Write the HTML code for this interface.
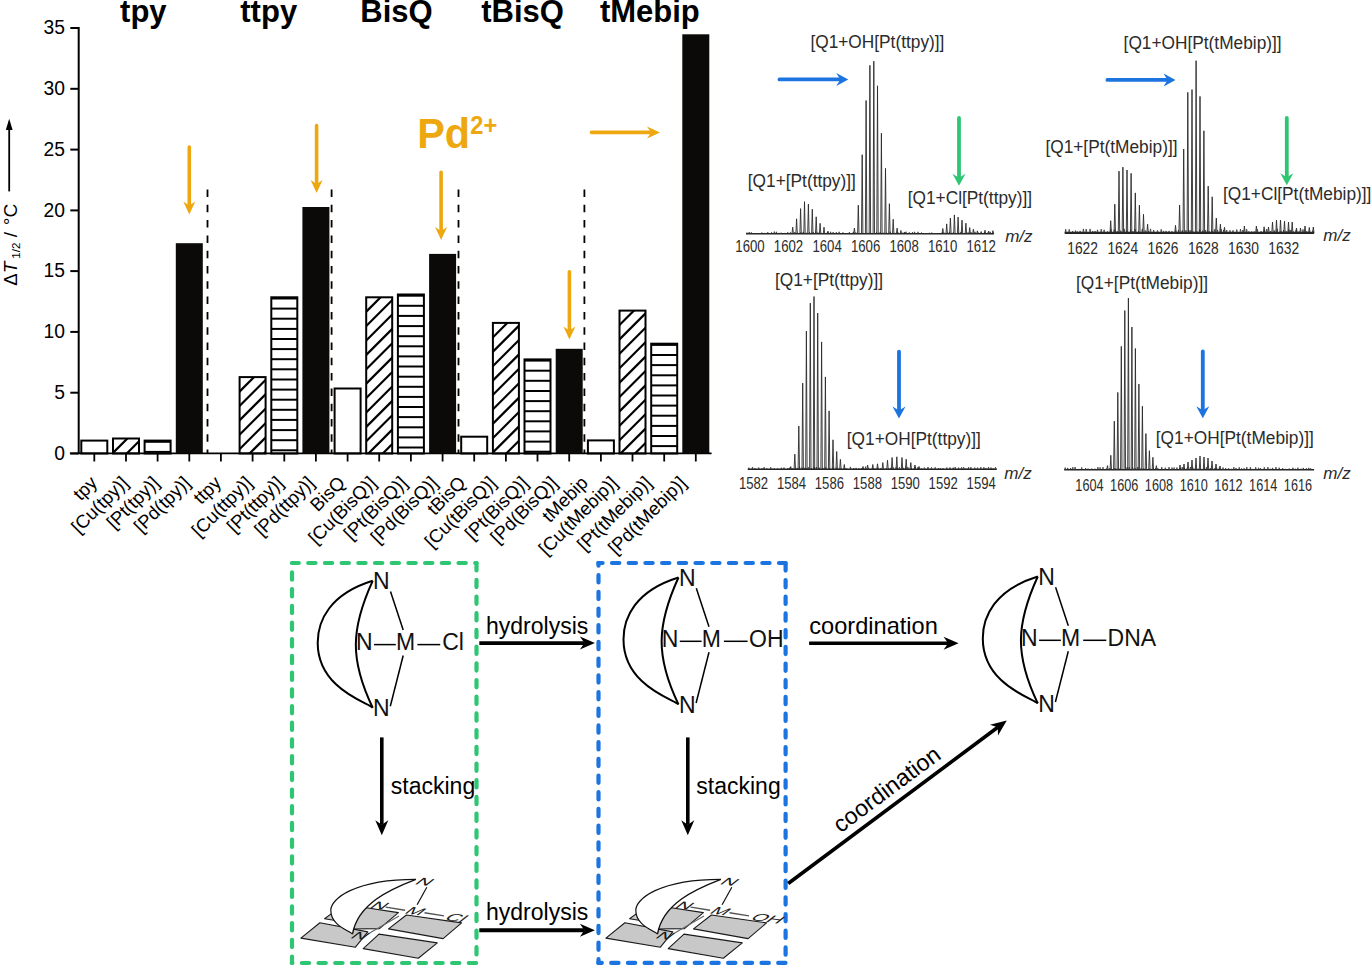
<!DOCTYPE html>
<html><head><meta charset="utf-8"><style>html,body{margin:0;padding:0;background:#fff;}svg{display:block}</style></head>
<body><svg width="1372" height="970" viewBox="0 0 1372 970">
<rect width="1372" height="970" fill="#fff"/>
<defs><clipPath id="c1"><rect x="113.0" y="438.5" width="26" height="15.0"/></clipPath><clipPath id="c5"><rect x="239.6" y="377.1" width="26" height="76.4"/></clipPath><clipPath id="c9"><rect x="366.2" y="297.3" width="26" height="156.2"/></clipPath><clipPath id="c13"><rect x="492.9" y="322.9" width="26" height="130.6"/></clipPath><clipPath id="c17"><rect x="619.5" y="310.6" width="26" height="142.9"/></clipPath></defs>
<line x1="78.7" y1="27" x2="78.7" y2="453.5" stroke="#000" stroke-width="2"/>
<line x1="70.3" y1="453.5" x2="78.7" y2="453.5" stroke="#000" stroke-width="2"/>
<text x="65" y="459.8" text-anchor="end" font-size="19.3" font-family="'Liberation Sans', sans-serif">0</text>
<line x1="70.3" y1="392.7" x2="78.7" y2="392.7" stroke="#000" stroke-width="2"/>
<text x="65" y="399.0" text-anchor="end" font-size="19.3" font-family="'Liberation Sans', sans-serif">5</text>
<line x1="70.3" y1="331.9" x2="78.7" y2="331.9" stroke="#000" stroke-width="2"/>
<text x="65" y="338.2" text-anchor="end" font-size="19.3" font-family="'Liberation Sans', sans-serif">10</text>
<line x1="70.3" y1="271.1" x2="78.7" y2="271.1" stroke="#000" stroke-width="2"/>
<text x="65" y="277.4" text-anchor="end" font-size="19.3" font-family="'Liberation Sans', sans-serif">15</text>
<line x1="70.3" y1="210.4" x2="78.7" y2="210.4" stroke="#000" stroke-width="2"/>
<text x="65" y="216.7" text-anchor="end" font-size="19.3" font-family="'Liberation Sans', sans-serif">20</text>
<line x1="70.3" y1="149.6" x2="78.7" y2="149.6" stroke="#000" stroke-width="2"/>
<text x="65" y="155.9" text-anchor="end" font-size="19.3" font-family="'Liberation Sans', sans-serif">25</text>
<line x1="70.3" y1="88.8" x2="78.7" y2="88.8" stroke="#000" stroke-width="2"/>
<text x="65" y="95.1" text-anchor="end" font-size="19.3" font-family="'Liberation Sans', sans-serif">30</text>
<line x1="70.3" y1="28.0" x2="78.7" y2="28.0" stroke="#000" stroke-width="2"/>
<text x="65" y="34.3" text-anchor="end" font-size="19.3" font-family="'Liberation Sans', sans-serif">35</text>
<line x1="69.9" y1="453.3" x2="711.6" y2="453.3" stroke="#000" stroke-width="1.8"/>
<line x1="94.3" y1="453.5" x2="94.3" y2="461.5" stroke="#000" stroke-width="1.8"/>
<line x1="126.0" y1="453.5" x2="126.0" y2="461.5" stroke="#000" stroke-width="1.8"/>
<line x1="157.6" y1="453.5" x2="157.6" y2="461.5" stroke="#000" stroke-width="1.8"/>
<line x1="189.3" y1="453.5" x2="189.3" y2="461.5" stroke="#000" stroke-width="1.8"/>
<line x1="220.9" y1="453.5" x2="220.9" y2="461.5" stroke="#000" stroke-width="1.8"/>
<line x1="252.6" y1="453.5" x2="252.6" y2="461.5" stroke="#000" stroke-width="1.8"/>
<line x1="284.3" y1="453.5" x2="284.3" y2="461.5" stroke="#000" stroke-width="1.8"/>
<line x1="315.9" y1="453.5" x2="315.9" y2="461.5" stroke="#000" stroke-width="1.8"/>
<line x1="347.6" y1="453.5" x2="347.6" y2="461.5" stroke="#000" stroke-width="1.8"/>
<line x1="379.2" y1="453.5" x2="379.2" y2="461.5" stroke="#000" stroke-width="1.8"/>
<line x1="410.9" y1="453.5" x2="410.9" y2="461.5" stroke="#000" stroke-width="1.8"/>
<line x1="442.6" y1="453.5" x2="442.6" y2="461.5" stroke="#000" stroke-width="1.8"/>
<line x1="474.2" y1="453.5" x2="474.2" y2="461.5" stroke="#000" stroke-width="1.8"/>
<line x1="505.9" y1="453.5" x2="505.9" y2="461.5" stroke="#000" stroke-width="1.8"/>
<line x1="537.5" y1="453.5" x2="537.5" y2="461.5" stroke="#000" stroke-width="1.8"/>
<line x1="569.2" y1="453.5" x2="569.2" y2="461.5" stroke="#000" stroke-width="1.8"/>
<line x1="600.9" y1="453.5" x2="600.9" y2="461.5" stroke="#000" stroke-width="1.8"/>
<line x1="632.5" y1="453.5" x2="632.5" y2="461.5" stroke="#000" stroke-width="1.8"/>
<line x1="664.2" y1="453.5" x2="664.2" y2="461.5" stroke="#000" stroke-width="1.8"/>
<line x1="695.8" y1="453.5" x2="695.8" y2="461.5" stroke="#000" stroke-width="1.8"/>
<rect x="81.3" y="440.6" width="26" height="12.9" fill="none" stroke="#000" stroke-width="2"/>
<g clip-path="url(#c1)" stroke="#000" stroke-width="2.2"><line x1="108.0" y1="400.3" x2="144.0" y2="364.3"/><line x1="108.0" y1="414.7" x2="144.0" y2="378.7"/><line x1="108.0" y1="429.1" x2="144.0" y2="393.1"/><line x1="108.0" y1="443.5" x2="144.0" y2="407.5"/><line x1="108.0" y1="457.9" x2="144.0" y2="421.9"/><line x1="108.0" y1="472.3" x2="144.0" y2="436.3"/><line x1="108.0" y1="486.7" x2="144.0" y2="450.7"/><line x1="108.0" y1="501.1" x2="144.0" y2="465.1"/><line x1="108.0" y1="515.5" x2="144.0" y2="479.5"/><line x1="108.0" y1="529.9" x2="144.0" y2="493.9"/><line x1="108.0" y1="544.3" x2="144.0" y2="508.3"/><line x1="108.0" y1="558.7" x2="144.0" y2="522.7"/><line x1="108.0" y1="573.1" x2="144.0" y2="537.1"/><line x1="108.0" y1="587.5" x2="144.0" y2="551.5"/><line x1="108.0" y1="601.9" x2="144.0" y2="565.9"/><line x1="108.0" y1="616.3" x2="144.0" y2="580.3"/><line x1="108.0" y1="630.7" x2="144.0" y2="594.7"/><line x1="108.0" y1="645.1" x2="144.0" y2="609.1"/><line x1="108.0" y1="659.5" x2="144.0" y2="623.5"/><line x1="108.0" y1="673.9" x2="144.0" y2="637.9"/><line x1="108.0" y1="688.3" x2="144.0" y2="652.3"/><line x1="108.0" y1="702.7" x2="144.0" y2="666.7"/><line x1="108.0" y1="717.1" x2="144.0" y2="681.1"/><line x1="108.0" y1="731.5" x2="144.0" y2="695.5"/><line x1="108.0" y1="745.9" x2="144.0" y2="709.9"/><line x1="108.0" y1="760.3" x2="144.0" y2="724.3"/><line x1="108.0" y1="774.7" x2="144.0" y2="738.7"/><line x1="108.0" y1="789.1" x2="144.0" y2="753.1"/><line x1="108.0" y1="803.5" x2="144.0" y2="767.5"/><line x1="108.0" y1="817.9" x2="144.0" y2="781.9"/><line x1="108.0" y1="832.3" x2="144.0" y2="796.3"/><line x1="108.0" y1="846.7" x2="144.0" y2="810.7"/><line x1="108.0" y1="861.1" x2="144.0" y2="825.1"/><line x1="108.0" y1="875.5" x2="144.0" y2="839.5"/><line x1="108.0" y1="889.9" x2="144.0" y2="853.9"/><line x1="108.0" y1="904.3" x2="144.0" y2="868.3"/><line x1="108.0" y1="918.7" x2="144.0" y2="882.7"/><line x1="108.0" y1="933.1" x2="144.0" y2="897.1"/><line x1="108.0" y1="947.5" x2="144.0" y2="911.5"/><line x1="108.0" y1="961.9" x2="144.0" y2="925.9"/><line x1="108.0" y1="976.3" x2="144.0" y2="940.3"/><line x1="108.0" y1="990.7" x2="144.0" y2="954.7"/><line x1="108.0" y1="1005.1" x2="144.0" y2="969.1"/></g>
<rect x="113.0" y="438.5" width="26" height="15.0" fill="none" stroke="#000" stroke-width="2"/>
<g stroke="#000" stroke-width="2"><line x1="144.6" y1="441.8" x2="170.6" y2="441.8"/><line x1="144.6" y1="451.9" x2="170.6" y2="451.9"/></g>
<rect x="144.6" y="440.6" width="26" height="12.9" fill="none" stroke="#000" stroke-width="2"/>
<rect x="175.8" y="243.2" width="27" height="210.3" fill="#0b0a08"/>
<g clip-path="url(#c5)" stroke="#000" stroke-width="2.2"><line x1="234.6" y1="338.9" x2="270.6" y2="302.9"/><line x1="234.6" y1="353.3" x2="270.6" y2="317.3"/><line x1="234.6" y1="367.7" x2="270.6" y2="331.7"/><line x1="234.6" y1="382.1" x2="270.6" y2="346.1"/><line x1="234.6" y1="396.5" x2="270.6" y2="360.5"/><line x1="234.6" y1="410.9" x2="270.6" y2="374.9"/><line x1="234.6" y1="425.3" x2="270.6" y2="389.3"/><line x1="234.6" y1="439.7" x2="270.6" y2="403.7"/><line x1="234.6" y1="454.1" x2="270.6" y2="418.1"/><line x1="234.6" y1="468.5" x2="270.6" y2="432.5"/><line x1="234.6" y1="482.9" x2="270.6" y2="446.9"/><line x1="234.6" y1="497.3" x2="270.6" y2="461.3"/><line x1="234.6" y1="511.7" x2="270.6" y2="475.7"/><line x1="234.6" y1="526.1" x2="270.6" y2="490.1"/><line x1="234.6" y1="540.5" x2="270.6" y2="504.5"/><line x1="234.6" y1="554.9" x2="270.6" y2="518.9"/><line x1="234.6" y1="569.3" x2="270.6" y2="533.3"/><line x1="234.6" y1="583.7" x2="270.6" y2="547.7"/><line x1="234.6" y1="598.1" x2="270.6" y2="562.1"/><line x1="234.6" y1="612.5" x2="270.6" y2="576.5"/><line x1="234.6" y1="626.9" x2="270.6" y2="590.9"/><line x1="234.6" y1="641.3" x2="270.6" y2="605.3"/><line x1="234.6" y1="655.7" x2="270.6" y2="619.7"/><line x1="234.6" y1="670.1" x2="270.6" y2="634.1"/><line x1="234.6" y1="684.5" x2="270.6" y2="648.5"/><line x1="234.6" y1="698.9" x2="270.6" y2="662.9"/><line x1="234.6" y1="713.3" x2="270.6" y2="677.3"/><line x1="234.6" y1="727.7" x2="270.6" y2="691.7"/><line x1="234.6" y1="742.1" x2="270.6" y2="706.1"/><line x1="234.6" y1="756.5" x2="270.6" y2="720.5"/><line x1="234.6" y1="770.9" x2="270.6" y2="734.9"/><line x1="234.6" y1="785.3" x2="270.6" y2="749.3"/><line x1="234.6" y1="799.7" x2="270.6" y2="763.7"/><line x1="234.6" y1="814.1" x2="270.6" y2="778.1"/><line x1="234.6" y1="828.5" x2="270.6" y2="792.5"/><line x1="234.6" y1="842.9" x2="270.6" y2="806.9"/><line x1="234.6" y1="857.3" x2="270.6" y2="821.3"/><line x1="234.6" y1="871.7" x2="270.6" y2="835.7"/><line x1="234.6" y1="886.1" x2="270.6" y2="850.1"/><line x1="234.6" y1="900.5" x2="270.6" y2="864.5"/><line x1="234.6" y1="914.9" x2="270.6" y2="878.9"/><line x1="234.6" y1="929.3" x2="270.6" y2="893.3"/><line x1="234.6" y1="943.7" x2="270.6" y2="907.7"/></g>
<rect x="239.6" y="377.1" width="26" height="76.4" fill="none" stroke="#000" stroke-width="2"/>
<g stroke="#000" stroke-width="2"><line x1="271.3" y1="298.5" x2="297.3" y2="298.5"/><line x1="271.3" y1="308.6" x2="297.3" y2="308.6"/><line x1="271.3" y1="318.7" x2="297.3" y2="318.7"/><line x1="271.3" y1="328.9" x2="297.3" y2="328.9"/><line x1="271.3" y1="339.0" x2="297.3" y2="339.0"/><line x1="271.3" y1="349.1" x2="297.3" y2="349.1"/><line x1="271.3" y1="359.2" x2="297.3" y2="359.2"/><line x1="271.3" y1="369.3" x2="297.3" y2="369.3"/><line x1="271.3" y1="379.5" x2="297.3" y2="379.5"/><line x1="271.3" y1="389.6" x2="297.3" y2="389.6"/><line x1="271.3" y1="399.7" x2="297.3" y2="399.7"/><line x1="271.3" y1="409.8" x2="297.3" y2="409.8"/><line x1="271.3" y1="419.9" x2="297.3" y2="419.9"/><line x1="271.3" y1="430.1" x2="297.3" y2="430.1"/><line x1="271.3" y1="440.2" x2="297.3" y2="440.2"/><line x1="271.3" y1="450.3" x2="297.3" y2="450.3"/></g>
<rect x="271.3" y="297.3" width="26" height="156.2" fill="none" stroke="#000" stroke-width="2"/>
<rect x="302.4" y="207.0" width="27" height="246.5" fill="#0b0a08"/>
<rect x="334.6" y="388.5" width="26" height="65.0" fill="none" stroke="#000" stroke-width="2"/>
<g clip-path="url(#c9)" stroke="#000" stroke-width="2.2"><line x1="361.2" y1="259.1" x2="397.2" y2="223.1"/><line x1="361.2" y1="273.5" x2="397.2" y2="237.5"/><line x1="361.2" y1="287.9" x2="397.2" y2="251.9"/><line x1="361.2" y1="302.3" x2="397.2" y2="266.3"/><line x1="361.2" y1="316.7" x2="397.2" y2="280.7"/><line x1="361.2" y1="331.1" x2="397.2" y2="295.1"/><line x1="361.2" y1="345.5" x2="397.2" y2="309.5"/><line x1="361.2" y1="359.9" x2="397.2" y2="323.9"/><line x1="361.2" y1="374.3" x2="397.2" y2="338.3"/><line x1="361.2" y1="388.7" x2="397.2" y2="352.7"/><line x1="361.2" y1="403.1" x2="397.2" y2="367.1"/><line x1="361.2" y1="417.5" x2="397.2" y2="381.5"/><line x1="361.2" y1="431.9" x2="397.2" y2="395.9"/><line x1="361.2" y1="446.3" x2="397.2" y2="410.3"/><line x1="361.2" y1="460.7" x2="397.2" y2="424.7"/><line x1="361.2" y1="475.1" x2="397.2" y2="439.1"/><line x1="361.2" y1="489.5" x2="397.2" y2="453.5"/><line x1="361.2" y1="503.9" x2="397.2" y2="467.9"/><line x1="361.2" y1="518.3" x2="397.2" y2="482.3"/><line x1="361.2" y1="532.7" x2="397.2" y2="496.7"/><line x1="361.2" y1="547.1" x2="397.2" y2="511.1"/><line x1="361.2" y1="561.5" x2="397.2" y2="525.5"/><line x1="361.2" y1="575.9" x2="397.2" y2="539.9"/><line x1="361.2" y1="590.3" x2="397.2" y2="554.3"/><line x1="361.2" y1="604.7" x2="397.2" y2="568.7"/><line x1="361.2" y1="619.1" x2="397.2" y2="583.1"/><line x1="361.2" y1="633.5" x2="397.2" y2="597.5"/><line x1="361.2" y1="647.9" x2="397.2" y2="611.9"/><line x1="361.2" y1="662.3" x2="397.2" y2="626.3"/><line x1="361.2" y1="676.7" x2="397.2" y2="640.7"/><line x1="361.2" y1="691.1" x2="397.2" y2="655.1"/><line x1="361.2" y1="705.5" x2="397.2" y2="669.5"/><line x1="361.2" y1="719.9" x2="397.2" y2="683.9"/><line x1="361.2" y1="734.3" x2="397.2" y2="698.3"/><line x1="361.2" y1="748.7" x2="397.2" y2="712.7"/><line x1="361.2" y1="763.1" x2="397.2" y2="727.1"/><line x1="361.2" y1="777.5" x2="397.2" y2="741.5"/><line x1="361.2" y1="791.9" x2="397.2" y2="755.9"/><line x1="361.2" y1="806.3" x2="397.2" y2="770.3"/><line x1="361.2" y1="820.7" x2="397.2" y2="784.7"/><line x1="361.2" y1="835.1" x2="397.2" y2="799.1"/><line x1="361.2" y1="849.5" x2="397.2" y2="813.5"/><line x1="361.2" y1="863.9" x2="397.2" y2="827.9"/></g>
<rect x="366.2" y="297.3" width="26" height="156.2" fill="none" stroke="#000" stroke-width="2"/>
<g stroke="#000" stroke-width="2"><line x1="397.9" y1="295.7" x2="423.9" y2="295.7"/><line x1="397.9" y1="305.8" x2="423.9" y2="305.8"/><line x1="397.9" y1="315.9" x2="423.9" y2="315.9"/><line x1="397.9" y1="326.1" x2="423.9" y2="326.1"/><line x1="397.9" y1="336.2" x2="423.9" y2="336.2"/><line x1="397.9" y1="346.3" x2="423.9" y2="346.3"/><line x1="397.9" y1="356.4" x2="423.9" y2="356.4"/><line x1="397.9" y1="366.5" x2="423.9" y2="366.5"/><line x1="397.9" y1="376.7" x2="423.9" y2="376.7"/><line x1="397.9" y1="386.8" x2="423.9" y2="386.8"/><line x1="397.9" y1="396.9" x2="423.9" y2="396.9"/><line x1="397.9" y1="407.0" x2="423.9" y2="407.0"/><line x1="397.9" y1="417.1" x2="423.9" y2="417.1"/><line x1="397.9" y1="427.3" x2="423.9" y2="427.3"/><line x1="397.9" y1="437.4" x2="423.9" y2="437.4"/><line x1="397.9" y1="447.5" x2="423.9" y2="447.5"/></g>
<rect x="397.9" y="294.5" width="26" height="159.0" fill="none" stroke="#000" stroke-width="2"/>
<rect x="429.1" y="253.9" width="27" height="199.6" fill="#0b0a08"/>
<rect x="461.2" y="436.7" width="26" height="16.8" fill="none" stroke="#000" stroke-width="2"/>
<g clip-path="url(#c13)" stroke="#000" stroke-width="2.2"><line x1="487.9" y1="284.7" x2="523.9" y2="248.7"/><line x1="487.9" y1="299.1" x2="523.9" y2="263.1"/><line x1="487.9" y1="313.5" x2="523.9" y2="277.5"/><line x1="487.9" y1="327.9" x2="523.9" y2="291.9"/><line x1="487.9" y1="342.3" x2="523.9" y2="306.3"/><line x1="487.9" y1="356.7" x2="523.9" y2="320.7"/><line x1="487.9" y1="371.1" x2="523.9" y2="335.1"/><line x1="487.9" y1="385.5" x2="523.9" y2="349.5"/><line x1="487.9" y1="399.9" x2="523.9" y2="363.9"/><line x1="487.9" y1="414.3" x2="523.9" y2="378.3"/><line x1="487.9" y1="428.7" x2="523.9" y2="392.7"/><line x1="487.9" y1="443.1" x2="523.9" y2="407.1"/><line x1="487.9" y1="457.5" x2="523.9" y2="421.5"/><line x1="487.9" y1="471.9" x2="523.9" y2="435.9"/><line x1="487.9" y1="486.3" x2="523.9" y2="450.3"/><line x1="487.9" y1="500.7" x2="523.9" y2="464.7"/><line x1="487.9" y1="515.1" x2="523.9" y2="479.1"/><line x1="487.9" y1="529.5" x2="523.9" y2="493.5"/><line x1="487.9" y1="543.9" x2="523.9" y2="507.9"/><line x1="487.9" y1="558.3" x2="523.9" y2="522.3"/><line x1="487.9" y1="572.7" x2="523.9" y2="536.7"/><line x1="487.9" y1="587.1" x2="523.9" y2="551.1"/><line x1="487.9" y1="601.5" x2="523.9" y2="565.5"/><line x1="487.9" y1="615.9" x2="523.9" y2="579.9"/><line x1="487.9" y1="630.3" x2="523.9" y2="594.3"/><line x1="487.9" y1="644.7" x2="523.9" y2="608.7"/><line x1="487.9" y1="659.1" x2="523.9" y2="623.1"/><line x1="487.9" y1="673.5" x2="523.9" y2="637.5"/><line x1="487.9" y1="687.9" x2="523.9" y2="651.9"/><line x1="487.9" y1="702.3" x2="523.9" y2="666.3"/><line x1="487.9" y1="716.7" x2="523.9" y2="680.7"/><line x1="487.9" y1="731.1" x2="523.9" y2="695.1"/><line x1="487.9" y1="745.5" x2="523.9" y2="709.5"/><line x1="487.9" y1="759.9" x2="523.9" y2="723.9"/><line x1="487.9" y1="774.3" x2="523.9" y2="738.3"/><line x1="487.9" y1="788.7" x2="523.9" y2="752.7"/><line x1="487.9" y1="803.1" x2="523.9" y2="767.1"/><line x1="487.9" y1="817.5" x2="523.9" y2="781.5"/><line x1="487.9" y1="831.9" x2="523.9" y2="795.9"/><line x1="487.9" y1="846.3" x2="523.9" y2="810.3"/><line x1="487.9" y1="860.7" x2="523.9" y2="824.7"/><line x1="487.9" y1="875.1" x2="523.9" y2="839.1"/><line x1="487.9" y1="889.5" x2="523.9" y2="853.5"/></g>
<rect x="492.9" y="322.9" width="26" height="130.6" fill="none" stroke="#000" stroke-width="2"/>
<g stroke="#000" stroke-width="2"><line x1="524.5" y1="360.6" x2="550.5" y2="360.6"/><line x1="524.5" y1="370.7" x2="550.5" y2="370.7"/><line x1="524.5" y1="380.8" x2="550.5" y2="380.8"/><line x1="524.5" y1="391.0" x2="550.5" y2="391.0"/><line x1="524.5" y1="401.1" x2="550.5" y2="401.1"/><line x1="524.5" y1="411.2" x2="550.5" y2="411.2"/><line x1="524.5" y1="421.3" x2="550.5" y2="421.3"/><line x1="524.5" y1="431.4" x2="550.5" y2="431.4"/><line x1="524.5" y1="441.6" x2="550.5" y2="441.6"/><line x1="524.5" y1="451.7" x2="550.5" y2="451.7"/></g>
<rect x="524.5" y="359.4" width="26" height="94.1" fill="none" stroke="#000" stroke-width="2"/>
<rect x="555.7" y="348.8" width="27" height="104.7" fill="#0b0a08"/>
<rect x="587.9" y="440.4" width="26" height="13.1" fill="none" stroke="#000" stroke-width="2"/>
<g clip-path="url(#c17)" stroke="#000" stroke-width="2.2"><line x1="614.5" y1="272.4" x2="650.5" y2="236.4"/><line x1="614.5" y1="286.8" x2="650.5" y2="250.8"/><line x1="614.5" y1="301.2" x2="650.5" y2="265.2"/><line x1="614.5" y1="315.6" x2="650.5" y2="279.6"/><line x1="614.5" y1="330.0" x2="650.5" y2="294.0"/><line x1="614.5" y1="344.4" x2="650.5" y2="308.4"/><line x1="614.5" y1="358.8" x2="650.5" y2="322.8"/><line x1="614.5" y1="373.2" x2="650.5" y2="337.2"/><line x1="614.5" y1="387.6" x2="650.5" y2="351.6"/><line x1="614.5" y1="402.0" x2="650.5" y2="366.0"/><line x1="614.5" y1="416.4" x2="650.5" y2="380.4"/><line x1="614.5" y1="430.8" x2="650.5" y2="394.8"/><line x1="614.5" y1="445.2" x2="650.5" y2="409.2"/><line x1="614.5" y1="459.6" x2="650.5" y2="423.6"/><line x1="614.5" y1="474.0" x2="650.5" y2="438.0"/><line x1="614.5" y1="488.4" x2="650.5" y2="452.4"/><line x1="614.5" y1="502.8" x2="650.5" y2="466.8"/><line x1="614.5" y1="517.2" x2="650.5" y2="481.2"/><line x1="614.5" y1="531.6" x2="650.5" y2="495.6"/><line x1="614.5" y1="546.0" x2="650.5" y2="510.0"/><line x1="614.5" y1="560.4" x2="650.5" y2="524.4"/><line x1="614.5" y1="574.8" x2="650.5" y2="538.8"/><line x1="614.5" y1="589.2" x2="650.5" y2="553.2"/><line x1="614.5" y1="603.6" x2="650.5" y2="567.6"/><line x1="614.5" y1="618.0" x2="650.5" y2="582.0"/><line x1="614.5" y1="632.4" x2="650.5" y2="596.4"/><line x1="614.5" y1="646.8" x2="650.5" y2="610.8"/><line x1="614.5" y1="661.2" x2="650.5" y2="625.2"/><line x1="614.5" y1="675.6" x2="650.5" y2="639.6"/><line x1="614.5" y1="690.0" x2="650.5" y2="654.0"/><line x1="614.5" y1="704.4" x2="650.5" y2="668.4"/><line x1="614.5" y1="718.8" x2="650.5" y2="682.8"/><line x1="614.5" y1="733.2" x2="650.5" y2="697.2"/><line x1="614.5" y1="747.6" x2="650.5" y2="711.6"/><line x1="614.5" y1="762.0" x2="650.5" y2="726.0"/><line x1="614.5" y1="776.4" x2="650.5" y2="740.4"/><line x1="614.5" y1="790.8" x2="650.5" y2="754.8"/><line x1="614.5" y1="805.2" x2="650.5" y2="769.2"/><line x1="614.5" y1="819.6" x2="650.5" y2="783.6"/><line x1="614.5" y1="834.0" x2="650.5" y2="798.0"/><line x1="614.5" y1="848.4" x2="650.5" y2="812.4"/><line x1="614.5" y1="862.8" x2="650.5" y2="826.8"/><line x1="614.5" y1="877.2" x2="650.5" y2="841.2"/></g>
<rect x="619.5" y="310.6" width="26" height="142.9" fill="none" stroke="#000" stroke-width="2"/>
<g stroke="#000" stroke-width="2"><line x1="651.2" y1="344.9" x2="677.2" y2="344.9"/><line x1="651.2" y1="355.0" x2="677.2" y2="355.0"/><line x1="651.2" y1="365.1" x2="677.2" y2="365.1"/><line x1="651.2" y1="375.3" x2="677.2" y2="375.3"/><line x1="651.2" y1="385.4" x2="677.2" y2="385.4"/><line x1="651.2" y1="395.5" x2="677.2" y2="395.5"/><line x1="651.2" y1="405.6" x2="677.2" y2="405.6"/><line x1="651.2" y1="415.7" x2="677.2" y2="415.7"/><line x1="651.2" y1="425.9" x2="677.2" y2="425.9"/><line x1="651.2" y1="436.0" x2="677.2" y2="436.0"/><line x1="651.2" y1="446.1" x2="677.2" y2="446.1"/></g>
<rect x="651.2" y="343.7" width="26" height="109.8" fill="none" stroke="#000" stroke-width="2"/>
<rect x="682.3" y="34.3" width="27" height="419.2" fill="#0b0a08"/>
<line x1="207.5" y1="189.5" x2="207.5" y2="453.5" stroke="#000" stroke-width="1.8" stroke-dasharray="7.5 7.8"/>
<line x1="331.6" y1="189.5" x2="331.6" y2="453.5" stroke="#000" stroke-width="1.8" stroke-dasharray="7.5 7.8"/>
<line x1="458.5" y1="189.5" x2="458.5" y2="453.5" stroke="#000" stroke-width="1.8" stroke-dasharray="7.5 7.8"/>
<line x1="584.4" y1="189.5" x2="584.4" y2="453.5" stroke="#000" stroke-width="1.8" stroke-dasharray="7.5 7.8"/>
<text x="120.1" y="21.8" font-size="31" font-weight="bold" font-family="'Liberation Sans', sans-serif">tpy</text>
<text x="240.3" y="21.8" font-size="31" font-weight="bold" font-family="'Liberation Sans', sans-serif">ttpy</text>
<text x="360.3" y="21.8" font-size="31" font-weight="bold" font-family="'Liberation Sans', sans-serif">BisQ</text>
<text x="481.3" y="21.8" font-size="31" font-weight="bold" font-family="'Liberation Sans', sans-serif">tBisQ</text>
<text x="599.9" y="21.8" font-size="31" font-weight="bold" font-family="'Liberation Sans', sans-serif">tMebip</text>
<line x1="189.3" y1="147" x2="189.3" y2="204.5" stroke="#EEA80F" stroke-width="3.6" stroke-linecap="round"/>
<path d="M183.3 201.5 L189.3 214.5 L195.3 201.5 L189.3 205.5 Z" fill="#EEA80F"/>
<line x1="316.6" y1="125.5" x2="316.6" y2="183" stroke="#EEA80F" stroke-width="3.6" stroke-linecap="round"/>
<path d="M310.6 180 L316.6 193 L322.6 180 L316.6 184 Z" fill="#EEA80F"/>
<line x1="441.1" y1="172.3" x2="441.1" y2="229.9" stroke="#EEA80F" stroke-width="3.6" stroke-linecap="round"/>
<path d="M435.1 226.9 L441.1 239.9 L447.1 226.9 L441.1 230.9 Z" fill="#EEA80F"/>
<line x1="569.4" y1="271.8" x2="569.4" y2="329.6" stroke="#EEA80F" stroke-width="3.6" stroke-linecap="round"/>
<path d="M563.4 326.6 L569.4 339.6 L575.4 326.6 L569.4 330.6 Z" fill="#EEA80F"/>
<line x1="591.5" y1="132.4" x2="650" y2="132.4" stroke="#EEA80F" stroke-width="3.6" stroke-linecap="round"/>
<path d="M647 126.4 L660 132.4 L647 138.4 L651 132.4 Z" fill="#EEA80F"/>
<text transform="translate(417.2,147.6) scale(0.957,1)" font-size="43.2" font-weight="bold" fill="#EEA80F" font-family="'Liberation Sans', sans-serif">Pd</text>
<text transform="translate(470.2,133.8) scale(0.95,1)" font-size="25" font-weight="bold" fill="#EEA80F" font-family="'Liberation Sans', sans-serif">2+</text>
<g transform="translate(17.4,0) rotate(-90)" font-family="'Liberation Sans', sans-serif" font-size="19.2"><text x="-285.7" y="0" transform="scale(0.97,1)" transform-origin="-285.7 0">Δ</text><text x="-273.3" y="0" font-style="italic">T</text><text x="-258.7" y="2.6" font-size="11.5">1/2</text><text x="-237.2" y="0">/</text><text x="-225.3" y="0">°C</text></g>
<line x1="9.2" y1="191.4" x2="9.2" y2="128" stroke="#000" stroke-width="1.8"/>
<path d="M5.8 130 L9.2 118.8 L12.6 130 Z" fill="#000"/>
<text transform="translate(98.3,484) rotate(-45)" text-anchor="end" font-size="18.6" font-family="'Liberation Sans', sans-serif">tpy</text>
<text transform="translate(129.3,484) rotate(-45)" text-anchor="end" font-size="18.6" font-family="'Liberation Sans', sans-serif">[Cu(tpy)]</text>
<text transform="translate(160.3,484) rotate(-45)" text-anchor="end" font-size="18.6" font-family="'Liberation Sans', sans-serif">[Pt(tpy)]</text>
<text transform="translate(191.3,484) rotate(-45)" text-anchor="end" font-size="18.6" font-family="'Liberation Sans', sans-serif">[Pd(tpy)]</text>
<text transform="translate(222.3,484) rotate(-45)" text-anchor="end" font-size="18.6" font-family="'Liberation Sans', sans-serif">ttpy</text>
<text transform="translate(253.3,484) rotate(-45)" text-anchor="end" font-size="18.6" font-family="'Liberation Sans', sans-serif">[Cu(ttpy)]</text>
<text transform="translate(284.3,484) rotate(-45)" text-anchor="end" font-size="18.6" font-family="'Liberation Sans', sans-serif">[Pt(ttpy)]</text>
<text transform="translate(315.3,484) rotate(-45)" text-anchor="end" font-size="18.6" font-family="'Liberation Sans', sans-serif">[Pd(ttpy)]</text>
<text transform="translate(346.3,484) rotate(-45)" text-anchor="end" font-size="18.6" font-family="'Liberation Sans', sans-serif">BisQ</text>
<text transform="translate(377.3,484) rotate(-45)" text-anchor="end" font-size="18.6" font-family="'Liberation Sans', sans-serif">[Cu(BisQ)]</text>
<text transform="translate(408.3,484) rotate(-45)" text-anchor="end" font-size="18.6" font-family="'Liberation Sans', sans-serif">[Pt(BisQ)]</text>
<text transform="translate(438.8,484) rotate(-45)" text-anchor="end" font-size="18.6" font-family="'Liberation Sans', sans-serif">[Pd(BisQ)]</text>
<text transform="translate(466.8,484) rotate(-45)" text-anchor="end" font-size="18.6" font-family="'Liberation Sans', sans-serif">tBisQ</text>
<text transform="translate(497.2,484) rotate(-45)" text-anchor="end" font-size="18.6" font-family="'Liberation Sans', sans-serif">[Cu(tBisQ)]</text>
<text transform="translate(529.4,484) rotate(-45)" text-anchor="end" font-size="18.6" font-family="'Liberation Sans', sans-serif">[Pt(BisQ)]</text>
<text transform="translate(558.7,484) rotate(-45)" text-anchor="end" font-size="18.6" font-family="'Liberation Sans', sans-serif">[Pd(BisQ)]</text>
<text transform="translate(589.1,484) rotate(-45)" text-anchor="end" font-size="18.6" font-family="'Liberation Sans', sans-serif">tMebip</text>
<text transform="translate(618.7,484) rotate(-45)" text-anchor="end" font-size="18.6" font-family="'Liberation Sans', sans-serif">[Cu(tMebip)]</text>
<text transform="translate(652.8,484) rotate(-45)" text-anchor="end" font-size="18.6" font-family="'Liberation Sans', sans-serif">[Pt(tMebip)]</text>
<text transform="translate(687.3,484) rotate(-45)" text-anchor="end" font-size="18.6" font-family="'Liberation Sans', sans-serif">[Pd(tMebip)]</text>
<line x1="746" y1="233.8" x2="994" y2="233.8" stroke="#222" stroke-width="1.6"/>
<path d="M746.4 233.8 L747.0 232.6 L747.6 233.8 M748.6 233.8 L749.2 232.1 L749.8 233.8 M750.7 233.8 L751.3 232.3 L751.9 233.8 M753.4 233.8 L754.0 233.1 L754.6 233.8 M756.3 233.8 L756.9 233.1 L757.5 233.8 M759.1 233.8 L759.7 233.0 L760.3 233.8 M761.3 233.8 L761.9 232.5 L762.5 233.8 M764.8 233.8 L765.4 232.9 L766.0 233.8 M767.2 233.8 L767.8 232.2 L768.4 233.8 M771.0 233.8 L771.6 232.3 L772.2 233.8 M773.7 233.8 L774.3 231.6 L774.9 233.8 M775.8 233.8 L776.4 231.8 L777.0 233.8 M778.3 233.8 L778.9 232.9 L779.5 233.8 M780.5 233.8 L781.1 232.7 L781.7 233.8 M784.0 233.8 L784.6 232.9 L785.2 233.8 M787.1 233.8 L787.7 232.2 L788.3 233.8 M789.8 233.8 L790.4 232.3 L791.0 233.8 M791.8 233.8 L792.4 233.0 L793.0 233.8 M794.2 233.8 L794.8 232.1 L795.4 233.8 M797.0 233.8 L797.6 232.7 L798.2 233.8 M800.1 233.8 L800.7 232.4 L801.3 233.8 M802.6 233.8 L803.2 231.9 L803.8 233.8 M805.9 233.8 L806.5 232.8 L807.1 233.8 M809.0 233.8 L809.6 232.3 L810.2 233.8 M812.6 233.8 L813.2 232.0 L813.8 233.8 M815.2 233.8 L815.8 231.6 L816.4 233.8 M817.3 233.8 L817.9 232.5 L818.5 233.8 M820.8 233.8 L821.4 232.9 L822.0 233.8 M823.7 233.8 L824.3 233.1 L824.9 233.8 M826.9 233.8 L827.5 232.0 L828.1 233.8 M830.0 233.8 L830.6 231.8 L831.2 233.8 M832.5 233.8 L833.1 232.1 L833.7 233.8 M835.7 233.8 L836.3 232.2 L836.9 233.8 M838.5 233.8 L839.1 231.8 L839.7 233.8 M842.3 233.8 L842.9 232.4 L843.5 233.8 M845.5 233.8 L846.1 233.0 L846.7 233.8 M848.8 233.8 L849.4 232.1 L850.0 233.8 M852.7 233.8 L853.3 231.9 L853.9 233.8 M855.2 233.8 L855.8 232.5 L856.4 233.8 M858.5 233.8 L859.1 233.1 L859.7 233.8 M861.3 233.8 L861.9 232.9 L862.5 233.8 M863.5 233.8 L864.1 233.0 L864.7 233.8 M867.0 233.8 L867.6 232.9 L868.2 233.8 M869.4 233.8 L870.0 232.5 L870.6 233.8 M873.1 233.8 L873.7 233.0 L874.3 233.8 M875.9 233.8 L876.5 232.3 L877.1 233.8 M879.6 233.8 L880.2 231.9 L880.8 233.8 M883.2 233.8 L883.8 232.7 L884.4 233.8 M885.9 233.8 L886.5 232.6 L887.1 233.8 M889.6 233.8 L890.2 231.7 L890.8 233.8 M891.9 233.8 L892.5 232.9 L893.1 233.8 M894.3 233.8 L894.9 232.8 L895.5 233.8 M897.2 233.8 L897.8 232.2 L898.4 233.8 M899.6 233.8 L900.2 233.1 L900.8 233.8 M902.4 233.8 L903.0 232.6 L903.6 233.8 M905.4 233.8 L906.0 231.7 L906.6 233.8 M908.7 233.8 L909.3 232.3 L909.9 233.8 M911.9 233.8 L912.5 232.1 L913.1 233.8 M914.0 233.8 L914.6 231.8 L915.2 233.8 M917.4 233.8 L918.0 231.8 L918.6 233.8 M920.9 233.8 L921.5 232.5 L922.1 233.8 M923.7 233.8 L924.3 233.0 L924.9 233.8 M926.8 233.8 L927.4 233.0 L928.0 233.8 M928.9 233.8 L929.5 232.8 L930.1 233.8 M931.2 233.8 L931.8 232.6 L932.4 233.8 M933.2 233.8 L933.8 233.1 L934.4 233.8 M935.5 233.8 L936.1 233.0 L936.7 233.8 M938.1 233.8 L938.7 233.1 L939.3 233.8 M941.8 233.8 L942.4 232.2 L943.0 233.8 M944.0 233.8 L944.6 232.8 L945.2 233.8 M946.7 233.8 L947.3 232.6 L947.9 233.8 M948.9 233.8 L949.5 231.8 L950.1 233.8 M952.7 233.8 L953.3 232.4 L953.9 233.8 M955.6 233.8 L956.2 233.0 L956.8 233.8 M957.8 233.8 L958.4 232.6 L959.0 233.8 M960.3 233.8 L960.9 231.9 L961.5 233.8 M962.5 233.8 L963.1 233.1 L963.7 233.8 M966.3 233.8 L966.9 232.3 L967.5 233.8 M968.6 233.8 L969.2 232.3 L969.8 233.8 M970.6 233.8 L971.2 232.3 L971.8 233.8 M974.4 233.8 L975.0 231.8 L975.6 233.8 M977.7 233.8 L978.3 232.7 L978.9 233.8 M980.4 233.8 L981.0 232.9 L981.6 233.8 M983.8 233.8 L984.4 232.3 L985.0 233.8 M987.3 233.8 L987.9 232.6 L988.5 233.8 M989.7 233.8 L990.3 231.9 L990.9 233.8" fill="none" stroke="#333" stroke-width="0.8"/>
<path d="M853.7 233.8 L854.4 228.1 L855.1 233.8 M857.6 233.8 L858.3 205.2 L859.0 233.8 M861.5 233.8 L862.2 154.7 L862.9 233.8 M865.4 233.8 L866.1 100.5 L866.8 233.8 M869.2 233.8 L869.9 65.3 L870.6 233.8 M873.1 233.8 L873.8 61.2 L874.5 233.8 M876.8 233.8 L877.5 85.8 L878.2 233.8 M880.7 233.8 L881.4 133.2 L882.1 233.8 M884.8 233.8 L885.5 168.4 L886.2 233.8 M888.7 233.8 L889.4 203.7 L890.1 233.8 M892.5 233.8 L893.2 219.3 L893.9 233.8 M896.4 233.8 L897.1 228.1 L897.8 233.8 M792.0 233.8 L792.7 227.2 L793.4 233.8 M795.9 233.8 L796.6 218.8 L797.3 233.8 M799.9 233.8 L800.6 208.6 L801.3 233.8 M803.8 233.8 L804.5 201.7 L805.2 233.8 M807.7 233.8 L808.4 204.1 L809.1 233.8 M811.6 233.8 L812.3 209.2 L813.0 233.8 M815.5 233.8 L816.2 216.8 L816.9 233.8 M819.4 233.8 L820.1 223.3 L820.8 233.8 M823.3 233.8 L824.0 227.2 L824.7 233.8 M827.3 233.8 L828.0 231.1 L828.7 233.8 M942.1 233.8 L942.8 228.5 L943.5 233.8 M946.0 233.8 L946.7 223.9 L947.4 233.8 M949.7 233.8 L950.4 218.0 L951.1 233.8 M953.7 233.8 L954.4 214.9 L955.1 233.8 M957.4 233.8 L958.1 217.1 L958.8 233.8 M961.3 233.8 L962.0 220.2 L962.7 233.8 M965.2 233.8 L965.9 223.2 L966.6 233.8 M969.0 233.8 L969.7 227.6 L970.4 233.8 M972.7 233.8 L973.4 229.2 L974.1 233.8 M976.7 233.8 L977.4 230.9 L978.1 233.8 M980.5 233.8 L981.2 231.6 L981.9 233.8 M984.3 233.8 L985.0 230.2 L985.7 233.8 M988.0 233.8 L988.7 231.1 L989.4 233.8 M992.2 233.8 L992.9 230.7 L993.6 233.8 M900.2 233.8 L900.9 230.5 L901.6 233.8 M904.1 233.8 L904.8 232.0 L905.5 233.8" fill="none" stroke="#2a2a2a" stroke-width="0.9"/>
<text transform="translate(810.4,48.4) scale(0.925,1)" font-size="18.7" fill="#2b2b2b" font-family="'Liberation Sans', sans-serif">[Q1+OH[Pt(ttpy)]]</text>
<text transform="translate(747.8,187.3) scale(0.925,1)" font-size="18.7" fill="#2b2b2b" font-family="'Liberation Sans', sans-serif">[Q1+[Pt(ttpy)]]</text>
<text transform="translate(907.7,203.7) scale(0.925,1)" font-size="18.7" fill="#2b2b2b" font-family="'Liberation Sans', sans-serif">[Q1+Cl[Pt(ttpy)]]</text>
<line x1="779.5" y1="79.4" x2="839.3" y2="79.4" stroke="#1C74E0" stroke-width="3.8" stroke-linecap="round"/>
<path d="M836.3 72.9 L848.3 79.4 L836.3 85.9 L840.3 79.4 Z" fill="#1C74E0"/>
<line x1="959" y1="118" x2="959" y2="176.8" stroke="#2FC673" stroke-width="3.8" stroke-linecap="round"/>
<path d="M952.5 173.8 L959 185.8 L965.5 173.8 L959 177.8 Z" fill="#2FC673"/>
<text transform="translate(750.0,251.5) scale(0.8,1)" text-anchor="middle" font-size="16.5" fill="#2b2b2b" font-family="'Liberation Sans', sans-serif">1600</text>
<text transform="translate(788.5,251.5) scale(0.8,1)" text-anchor="middle" font-size="16.5" fill="#2b2b2b" font-family="'Liberation Sans', sans-serif">1602</text>
<text transform="translate(827.1,251.5) scale(0.8,1)" text-anchor="middle" font-size="16.5" fill="#2b2b2b" font-family="'Liberation Sans', sans-serif">1604</text>
<text transform="translate(865.6,251.5) scale(0.8,1)" text-anchor="middle" font-size="16.5" fill="#2b2b2b" font-family="'Liberation Sans', sans-serif">1606</text>
<text transform="translate(904.1,251.5) scale(0.8,1)" text-anchor="middle" font-size="16.5" fill="#2b2b2b" font-family="'Liberation Sans', sans-serif">1608</text>
<text transform="translate(942.6,251.5) scale(0.8,1)" text-anchor="middle" font-size="16.5" fill="#2b2b2b" font-family="'Liberation Sans', sans-serif">1610</text>
<text transform="translate(981.2,251.5) scale(0.8,1)" text-anchor="middle" font-size="16.5" fill="#2b2b2b" font-family="'Liberation Sans', sans-serif">1612</text>
<text x="1005.2" y="241.5" font-size="17" font-style="italic" fill="#2b2b2b" font-family="'Liberation Sans', sans-serif">m/z</text>
<line x1="1064.7" y1="232.8" x2="1314.1" y2="232.8" stroke="#222" stroke-width="2.2"/>
<path d="M1065.1 232.8 L1065.7 229.2 L1066.3 232.8 M1068.6 232.8 L1069.2 229.3 L1069.8 232.8 M1072.0 232.8 L1072.6 231.0 L1073.2 232.8 M1075.0 232.8 L1075.6 230.6 L1076.2 232.8 M1077.0 232.8 L1077.6 231.5 L1078.2 232.8 M1079.5 232.8 L1080.1 230.9 L1080.7 232.8 M1082.8 232.8 L1083.4 228.9 L1084.0 232.8 M1085.6 232.8 L1086.2 229.0 L1086.8 232.8 M1089.5 232.8 L1090.1 228.9 L1090.7 232.8 M1092.1 232.8 L1092.7 231.0 L1093.3 232.8 M1094.5 232.8 L1095.1 231.0 L1095.7 232.8 M1096.9 232.8 L1097.5 229.9 L1098.1 232.8 M1100.6 232.8 L1101.2 229.2 L1101.8 232.8 M1103.5 232.8 L1104.1 229.8 L1104.7 232.8 M1107.0 232.8 L1107.6 231.4 L1108.2 232.8 M1110.2 232.8 L1110.8 229.1 L1111.4 232.8 M1113.7 232.8 L1114.3 229.5 L1114.9 232.8 M1116.6 232.8 L1117.2 231.1 L1117.8 232.8 M1120.1 232.8 L1120.7 230.7 L1121.3 232.8 M1123.6 232.8 L1124.2 228.9 L1124.8 232.8 M1126.3 232.8 L1126.9 230.5 L1127.5 232.8 M1130.1 232.8 L1130.7 229.6 L1131.3 232.8 M1132.4 232.8 L1133.0 231.2 L1133.6 232.8 M1134.6 232.8 L1135.2 229.1 L1135.8 232.8 M1138.1 232.8 L1138.7 231.2 L1139.3 232.8 M1141.7 232.8 L1142.3 228.9 L1142.9 232.8 M1144.9 232.8 L1145.5 230.6 L1146.1 232.8 M1148.0 232.8 L1148.6 231.2 L1149.2 232.8 M1149.9 232.8 L1150.5 228.9 L1151.1 232.8 M1153.1 232.8 L1153.7 230.1 L1154.3 232.8 M1156.9 232.8 L1157.5 230.4 L1158.1 232.8 M1160.6 232.8 L1161.2 229.3 L1161.8 232.8 M1162.9 232.8 L1163.5 230.9 L1164.1 232.8 M1165.5 232.8 L1166.1 230.9 L1166.7 232.8 M1168.5 232.8 L1169.1 230.9 L1169.7 232.8 M1171.3 232.8 L1171.9 231.2 L1172.5 232.8 M1175.0 232.8 L1175.6 230.6 L1176.2 232.8 M1177.9 232.8 L1178.5 230.0 L1179.1 232.8 M1181.6 232.8 L1182.2 230.4 L1182.8 232.8 M1185.3 232.8 L1185.9 230.2 L1186.5 232.8 M1188.3 232.8 L1188.9 230.1 L1189.5 232.8 M1190.3 232.8 L1190.9 230.4 L1191.5 232.8 M1192.6 232.8 L1193.2 231.6 L1193.8 232.8 M1196.1 232.8 L1196.7 231.1 L1197.3 232.8 M1199.0 232.8 L1199.6 229.6 L1200.2 232.8 M1202.0 232.8 L1202.6 230.7 L1203.2 232.8 M1205.0 232.8 L1205.6 230.0 L1206.2 232.8 M1208.5 232.8 L1209.1 231.3 L1209.7 232.8 M1211.5 232.8 L1212.1 230.9 L1212.7 232.8 M1214.0 232.8 L1214.6 229.4 L1215.2 232.8 M1216.9 232.8 L1217.5 230.0 L1218.1 232.8 M1220.4 232.8 L1221.0 229.0 L1221.6 232.8 M1223.2 232.8 L1223.8 229.9 L1224.4 232.8 M1226.1 232.8 L1226.7 230.2 L1227.3 232.8 M1229.4 232.8 L1230.0 230.3 L1230.6 232.8 M1232.4 232.8 L1233.0 230.3 L1233.6 232.8 M1236.2 232.8 L1236.8 229.6 L1237.4 232.8 M1239.9 232.8 L1240.5 229.0 L1241.1 232.8 M1242.3 232.8 L1242.9 230.0 L1243.5 232.8 M1246.1 232.8 L1246.7 229.2 L1247.3 232.8 M1248.3 232.8 L1248.9 231.3 L1249.5 232.8 M1251.1 232.8 L1251.7 231.4 L1252.3 232.8 M1253.6 232.8 L1254.2 231.4 L1254.8 232.8 M1256.8 232.8 L1257.4 229.4 L1258.0 232.8 M1260.5 232.8 L1261.1 231.2 L1261.7 232.8 M1263.9 232.8 L1264.5 229.8 L1265.1 232.8 M1266.1 232.8 L1266.7 229.1 L1267.3 232.8 M1269.9 232.8 L1270.5 231.0 L1271.1 232.8 M1273.7 232.8 L1274.3 230.5 L1274.9 232.8 M1276.6 232.8 L1277.2 228.8 L1277.8 232.8 M1280.2 232.8 L1280.8 231.1 L1281.4 232.8 M1283.0 232.8 L1283.6 230.2 L1284.2 232.8 M1285.6 232.8 L1286.2 231.1 L1286.8 232.8 M1288.2 232.8 L1288.8 229.6 L1289.4 232.8 M1290.2 232.8 L1290.8 230.0 L1291.4 232.8 M1293.0 232.8 L1293.6 231.5 L1294.2 232.8 M1295.6 232.8 L1296.2 229.9 L1296.8 232.8 M1298.5 232.8 L1299.1 231.4 L1299.7 232.8 M1302.4 232.8 L1303.0 229.4 L1303.6 232.8 M1306.2 232.8 L1306.8 231.3 L1307.4 232.8 M1308.7 232.8 L1309.3 231.5 L1309.9 232.8 M1312.2 232.8 L1312.8 230.8 L1313.4 232.8" fill="none" stroke="#333" stroke-width="0.8"/>
<path d="M1110.0 232.8 L1110.7 220.7 L1111.4 232.8 M1114.1 232.8 L1114.8 204.2 L1115.5 232.8 M1118.3 232.8 L1119.0 171.2 L1119.7 232.8 M1122.2 232.8 L1122.9 167.1 L1123.6 232.8 M1126.3 232.8 L1127.0 170.0 L1127.7 232.8 M1130.4 232.8 L1131.1 173.3 L1131.8 232.8 M1134.6 232.8 L1135.3 192.9 L1136.0 232.8 M1138.7 232.8 L1139.4 205.1 L1140.1 232.8 M1142.8 232.8 L1143.5 214.3 L1144.2 232.8 M1146.9 232.8 L1147.6 224.2 L1148.3 232.8 M1174.8 232.8 L1175.5 225.3 L1176.2 232.8 M1178.9 232.8 L1179.6 205.1 L1180.3 232.8 M1183.0 232.8 L1183.7 149.0 L1184.4 232.8 M1187.1 232.8 L1187.8 92.3 L1188.5 232.8 M1191.3 232.8 L1192.0 89.6 L1192.7 232.8 M1195.4 232.8 L1196.1 60.7 L1196.8 232.8 M1199.3 232.8 L1200.0 96.4 L1200.7 232.8 M1203.2 232.8 L1203.9 130.8 L1204.6 232.8 M1207.5 232.8 L1208.2 186.1 L1208.9 232.8 M1211.5 232.8 L1212.2 196.8 L1212.9 232.8 M1215.6 232.8 L1216.3 218.0 L1217.0 232.8 M1219.7 232.8 L1220.4 224.2 L1221.1 232.8 M1223.8 232.8 L1224.5 227.3 L1225.2 232.8 M1243.7 232.8 L1244.4 226.0 L1245.1 232.8 M1255.7 232.8 L1256.4 226.0 L1257.1 232.8 M1263.4 232.8 L1264.1 226.8 L1264.8 232.8 M1267.8 232.8 L1268.5 227.0 L1269.2 232.8 M1271.8 232.8 L1272.5 222.0 L1273.2 232.8 M1275.8 232.8 L1276.5 220.1 L1277.2 232.8 M1279.8 232.8 L1280.5 220.1 L1281.2 232.8 M1283.8 232.8 L1284.5 221.2 L1285.2 232.8 M1287.8 232.8 L1288.5 222.0 L1289.2 232.8 M1291.5 232.8 L1292.2 222.0 L1292.9 232.8 M1295.8 232.8 L1296.5 228.0 L1297.2 232.8 M1299.8 232.8 L1300.5 228.0 L1301.2 232.8 M1304.3 232.8 L1305.0 226.0 L1305.7 232.8 M1308.6 232.8 L1309.3 227.5 L1310.0 232.8 M1312.6 232.8 L1313.3 227.0 L1314.0 232.8" fill="none" stroke="#2a2a2a" stroke-width="0.9"/>
<text transform="translate(1123.6,48.9) scale(0.925,1)" font-size="18.7" fill="#2b2b2b" font-family="'Liberation Sans', sans-serif">[Q1+OH[Pt(tMebip)]]</text>
<text transform="translate(1045.4,153.3) scale(0.925,1)" font-size="18.7" fill="#2b2b2b" font-family="'Liberation Sans', sans-serif">[Q1+[Pt(tMebip)]]</text>
<text transform="translate(1223,200.3) scale(0.925,1)" font-size="18.7" fill="#2b2b2b" font-family="'Liberation Sans', sans-serif">[Q1+Cl[Pt(tMebip)]]</text>
<line x1="1107.4" y1="79.9" x2="1166.5" y2="79.9" stroke="#1C74E0" stroke-width="3.8" stroke-linecap="round"/>
<path d="M1163.5 73.4 L1175.5 79.9 L1163.5 86.4 L1167.5 79.9 Z" fill="#1C74E0"/>
<line x1="1286.8" y1="118" x2="1286.8" y2="176.3" stroke="#2FC673" stroke-width="3.8" stroke-linecap="round"/>
<path d="M1280.3 173.3 L1286.8 185.3 L1293.3 173.3 L1286.8 177.3 Z" fill="#2FC673"/>
<text transform="translate(1082.6,254.2) scale(0.84,1)" text-anchor="middle" font-size="16.5" fill="#2b2b2b" font-family="'Liberation Sans', sans-serif">1622</text>
<text transform="translate(1122.8,254.2) scale(0.84,1)" text-anchor="middle" font-size="16.5" fill="#2b2b2b" font-family="'Liberation Sans', sans-serif">1624</text>
<text transform="translate(1163.0,254.2) scale(0.84,1)" text-anchor="middle" font-size="16.5" fill="#2b2b2b" font-family="'Liberation Sans', sans-serif">1626</text>
<text transform="translate(1203.3,254.2) scale(0.84,1)" text-anchor="middle" font-size="16.5" fill="#2b2b2b" font-family="'Liberation Sans', sans-serif">1628</text>
<text transform="translate(1243.5,254.2) scale(0.84,1)" text-anchor="middle" font-size="16.5" fill="#2b2b2b" font-family="'Liberation Sans', sans-serif">1630</text>
<text transform="translate(1283.7,254.2) scale(0.84,1)" text-anchor="middle" font-size="16.5" fill="#2b2b2b" font-family="'Liberation Sans', sans-serif">1632</text>
<text x="1323.3" y="241.4" font-size="17" font-style="italic" fill="#2b2b2b" font-family="'Liberation Sans', sans-serif">m/z</text>
<line x1="747.8" y1="469.2" x2="996.8" y2="469.2" stroke="#222" stroke-width="1.6"/>
<path d="M748.2 469.2 L748.8 467.7 L749.4 469.2 M751.9 469.2 L752.5 467.0 L753.1 469.2 M754.4 469.2 L755.0 468.2 L755.6 469.2 M758.1 469.2 L758.7 467.5 L759.3 469.2 M761.4 469.2 L762.0 468.3 L762.6 469.2 M763.5 469.2 L764.1 467.2 L764.7 469.2 M766.3 469.2 L766.9 468.3 L767.5 469.2 M770.1 469.2 L770.7 467.3 L771.3 469.2 M773.6 469.2 L774.2 468.3 L774.8 469.2 M777.2 469.2 L777.8 468.3 L778.4 469.2 M780.8 469.2 L781.4 467.7 L782.0 469.2 M783.4 469.2 L784.0 467.5 L784.6 469.2 M787.2 469.2 L787.8 468.0 L788.4 469.2 M789.4 469.2 L790.0 467.5 L790.6 469.2 M791.8 469.2 L792.4 468.3 L793.0 469.2 M794.1 469.2 L794.7 468.4 L795.3 469.2 M796.4 469.2 L797.0 467.9 L797.6 469.2 M799.0 469.2 L799.6 467.1 L800.2 469.2 M801.5 469.2 L802.1 467.6 L802.7 469.2 M803.8 469.2 L804.4 467.8 L805.0 469.2 M805.8 469.2 L806.4 468.0 L807.0 469.2 M807.7 469.2 L808.3 467.2 L808.9 469.2 M810.8 469.2 L811.4 468.1 L812.0 469.2 M813.6 469.2 L814.2 466.8 L814.8 469.2 M815.8 469.2 L816.4 467.0 L817.0 469.2 M818.6 469.2 L819.2 467.6 L819.8 469.2 M822.2 469.2 L822.8 467.8 L823.4 469.2 M825.1 469.2 L825.7 467.2 L826.3 469.2 M829.0 469.2 L829.6 467.9 L830.2 469.2 M832.5 469.2 L833.1 467.2 L833.7 469.2 M835.7 469.2 L836.3 467.7 L836.9 469.2 M838.4 469.2 L839.0 468.4 L839.6 469.2 M840.6 469.2 L841.2 468.3 L841.8 469.2 M844.0 469.2 L844.6 468.0 L845.2 469.2 M846.2 469.2 L846.8 468.3 L847.4 469.2 M849.8 469.2 L850.4 466.9 L851.0 469.2 M853.1 469.2 L853.7 468.0 L854.3 469.2 M855.5 469.2 L856.1 467.9 L856.7 469.2 M858.3 469.2 L858.9 468.2 L859.5 469.2 M861.2 469.2 L861.8 468.0 L862.4 469.2 M865.0 469.2 L865.6 466.7 L866.2 469.2 M868.0 469.2 L868.6 468.0 L869.2 469.2 M871.8 469.2 L872.4 467.9 L873.0 469.2 M874.5 469.2 L875.1 468.4 L875.7 469.2 M877.2 469.2 L877.8 467.6 L878.4 469.2 M880.1 469.2 L880.7 468.1 L881.3 469.2 M883.0 469.2 L883.6 468.4 L884.2 469.2 M885.5 469.2 L886.1 468.3 L886.7 469.2 M888.2 469.2 L888.8 468.4 L889.4 469.2 M890.2 469.2 L890.8 467.9 L891.4 469.2 M892.6 469.2 L893.2 467.4 L893.8 469.2 M895.6 469.2 L896.2 467.1 L896.8 469.2 M898.9 469.2 L899.5 467.2 L900.1 469.2 M902.5 469.2 L903.1 467.8 L903.7 469.2 M905.1 469.2 L905.7 466.7 L906.3 469.2 M907.3 469.2 L907.9 467.2 L908.5 469.2 M910.5 469.2 L911.1 468.4 L911.7 469.2 M914.1 469.2 L914.7 466.9 L915.3 469.2 M917.3 469.2 L917.9 467.2 L918.5 469.2 M920.8 469.2 L921.4 468.2 L922.0 469.2 M923.8 469.2 L924.4 467.6 L925.0 469.2 M927.4 469.2 L928.0 467.0 L928.6 469.2 M930.9 469.2 L931.5 467.4 L932.1 469.2 M934.6 469.2 L935.2 467.3 L935.8 469.2 M937.9 469.2 L938.5 468.0 L939.1 469.2 M939.9 469.2 L940.5 468.2 L941.1 469.2 M942.6 469.2 L943.2 468.3 L943.8 469.2 M946.2 469.2 L946.8 467.5 L947.4 469.2 M949.4 469.2 L950.0 467.4 L950.6 469.2 M952.6 469.2 L953.2 467.6 L953.8 469.2 M954.6 469.2 L955.2 467.1 L955.8 469.2 M958.0 469.2 L958.6 467.6 L959.2 469.2 M961.0 469.2 L961.6 467.3 L962.2 469.2 M963.1 469.2 L963.7 467.2 L964.3 469.2 M965.5 469.2 L966.1 468.3 L966.7 469.2 M968.0 469.2 L968.6 467.2 L969.2 469.2 M970.3 469.2 L970.9 467.2 L971.5 469.2 M974.2 469.2 L974.8 467.6 L975.4 469.2 M976.9 469.2 L977.5 467.6 L978.1 469.2 M980.2 469.2 L980.8 467.1 L981.4 469.2 M983.3 469.2 L983.9 467.3 L984.5 469.2 M985.4 469.2 L986.0 468.2 L986.6 469.2 M987.9 469.2 L988.5 467.1 L989.1 469.2 M990.4 469.2 L991.0 467.5 L991.6 469.2 M992.4 469.2 L993.0 468.3 L993.6 469.2 M994.9 469.2 L995.5 467.3 L996.1 469.2" fill="none" stroke="#333" stroke-width="0.8"/>
<path d="M790.0 469.2 L790.7 466.6 L791.4 469.2 M794.1 469.2 L794.8 454.2 L795.5 469.2 M798.1 469.2 L798.8 426.0 L799.5 469.2 M802.0 469.2 L802.7 383.1 L803.4 469.2 M805.7 469.2 L806.4 331.1 L807.1 469.2 M809.6 469.2 L810.3 303.1 L811.0 469.2 M813.3 469.2 L814.0 296.5 L814.7 469.2 M817.0 469.2 L817.7 313.0 L818.4 469.2 M820.9 469.2 L821.6 341.9 L822.3 469.2 M824.7 469.2 L825.4 376.9 L826.1 469.2 M828.4 469.2 L829.1 410.9 L829.8 469.2 M832.3 469.2 L833.0 439.8 L833.7 469.2 M836.0 469.2 L836.7 451.5 L837.4 469.2 M839.7 469.2 L840.4 459.4 L841.1 469.2 M843.6 469.2 L844.3 464.5 L845.0 469.2 M862.3 469.2 L863.0 466.5 L863.7 469.2 M866.9 469.2 L867.6 465.0 L868.3 469.2 M872.1 469.2 L872.8 464.5 L873.5 469.2 M876.8 469.2 L877.5 463.8 L878.2 469.2 M882.1 469.2 L882.8 462.6 L883.5 469.2 M886.8 469.2 L887.5 460.3 L888.2 469.2 M891.4 469.2 L892.1 457.5 L892.8 469.2 M896.1 469.2 L896.8 456.8 L897.5 469.2 M901.3 469.2 L902.0 457.5 L902.7 469.2 M905.5 469.2 L906.2 459.2 L906.9 469.2 M910.1 469.2 L910.8 462.6 L911.5 469.2 M914.3 469.2 L915.0 465.0 L915.7 469.2 M918.3 469.2 L919.0 466.5 L919.7 469.2" fill="none" stroke="#2a2a2a" stroke-width="0.9"/>
<text transform="translate(775,286.4) scale(0.925,1)" font-size="18.7" fill="#2b2b2b" font-family="'Liberation Sans', sans-serif">[Q1+[Pt(ttpy)]]</text>
<text transform="translate(846.8,445.3) scale(0.925,1)" font-size="18.7" fill="#2b2b2b" font-family="'Liberation Sans', sans-serif">[Q1+OH[Pt(ttpy)]]</text>
<line x1="899" y1="351.6" x2="899" y2="409.4" stroke="#1C74E0" stroke-width="3.8" stroke-linecap="round"/>
<path d="M892.5 406.4 L899 418.4 L905.5 406.4 L899 410.4 Z" fill="#1C74E0"/>
<text transform="translate(753.5,489.3) scale(0.795,1)" text-anchor="middle" font-size="16.5" fill="#2b2b2b" font-family="'Liberation Sans', sans-serif">1582</text>
<text transform="translate(791.5,489.3) scale(0.795,1)" text-anchor="middle" font-size="16.5" fill="#2b2b2b" font-family="'Liberation Sans', sans-serif">1584</text>
<text transform="translate(829.4,489.3) scale(0.795,1)" text-anchor="middle" font-size="16.5" fill="#2b2b2b" font-family="'Liberation Sans', sans-serif">1586</text>
<text transform="translate(867.4,489.3) scale(0.795,1)" text-anchor="middle" font-size="16.5" fill="#2b2b2b" font-family="'Liberation Sans', sans-serif">1588</text>
<text transform="translate(905.3,489.3) scale(0.795,1)" text-anchor="middle" font-size="16.5" fill="#2b2b2b" font-family="'Liberation Sans', sans-serif">1590</text>
<text transform="translate(943.2,489.3) scale(0.795,1)" text-anchor="middle" font-size="16.5" fill="#2b2b2b" font-family="'Liberation Sans', sans-serif">1592</text>
<text transform="translate(981.2,489.3) scale(0.795,1)" text-anchor="middle" font-size="16.5" fill="#2b2b2b" font-family="'Liberation Sans', sans-serif">1594</text>
<text x="1004.3" y="479" font-size="17" font-style="italic" fill="#2b2b2b" font-family="'Liberation Sans', sans-serif">m/z</text>
<line x1="1064.2" y1="469.8" x2="1314.1" y2="469.8" stroke="#222" stroke-width="1.6"/>
<path d="M1064.6 469.8 L1065.2 467.6 L1065.8 469.8 M1067.1 469.8 L1067.7 467.9 L1068.3 469.8 M1070.0 469.8 L1070.6 468.0 L1071.2 469.8 M1072.2 469.8 L1072.8 467.2 L1073.4 469.8 M1074.5 469.8 L1075.1 467.0 L1075.7 469.8 M1078.3 469.8 L1078.9 468.9 L1079.5 469.8 M1081.1 469.8 L1081.7 467.4 L1082.3 469.8 M1085.0 469.8 L1085.6 468.1 L1086.2 469.8 M1087.4 469.8 L1088.0 468.5 L1088.6 469.8 M1091.2 469.8 L1091.8 468.5 L1092.4 469.8 M1094.3 469.8 L1094.9 468.7 L1095.5 469.8 M1097.3 469.8 L1097.9 467.1 L1098.5 469.8 M1099.5 469.8 L1100.1 467.4 L1100.7 469.8 M1102.4 469.8 L1103.0 467.2 L1103.6 469.8 M1105.7 469.8 L1106.3 468.5 L1106.9 469.8 M1109.4 469.8 L1110.0 468.0 L1110.6 469.8 M1111.4 469.8 L1112.0 469.0 L1112.6 469.8 M1114.4 469.8 L1115.0 468.1 L1115.6 469.8 M1116.9 469.8 L1117.5 468.7 L1118.1 469.8 M1119.5 469.8 L1120.1 468.3 L1120.7 469.8 M1123.1 469.8 L1123.7 469.0 L1124.3 469.8 M1126.5 469.8 L1127.1 467.3 L1127.7 469.8 M1128.7 469.8 L1129.3 467.1 L1129.9 469.8 M1132.0 469.8 L1132.6 467.2 L1133.2 469.8 M1134.6 469.8 L1135.2 468.2 L1135.8 469.8 M1137.3 469.8 L1137.9 467.0 L1138.5 469.8 M1140.4 469.8 L1141.0 468.3 L1141.6 469.8 M1143.2 469.8 L1143.8 468.4 L1144.4 469.8 M1145.2 469.8 L1145.8 468.8 L1146.4 469.8 M1148.8 469.8 L1149.4 468.4 L1150.0 469.8 M1152.6 469.8 L1153.2 468.5 L1153.8 469.8 M1155.0 469.8 L1155.6 468.0 L1156.2 469.8 M1157.3 469.8 L1157.9 468.2 L1158.5 469.8 M1161.2 469.8 L1161.8 467.2 L1162.4 469.8 M1164.7 469.8 L1165.3 467.7 L1165.9 469.8 M1168.4 469.8 L1169.0 467.1 L1169.6 469.8 M1171.4 469.8 L1172.0 467.5 L1172.6 469.8 M1173.5 469.8 L1174.1 467.5 L1174.7 469.8 M1176.3 469.8 L1176.9 467.5 L1177.5 469.8 M1179.5 469.8 L1180.1 468.4 L1180.7 469.8 M1181.6 469.8 L1182.2 467.1 L1182.8 469.8 M1183.8 469.8 L1184.4 468.0 L1185.0 469.8 M1186.4 469.8 L1187.0 468.4 L1187.6 469.8 M1189.8 469.8 L1190.4 467.0 L1191.0 469.8 M1192.2 469.8 L1192.8 467.7 L1193.4 469.8 M1194.8 469.8 L1195.4 467.9 L1196.0 469.8 M1197.5 469.8 L1198.1 468.6 L1198.7 469.8 M1199.8 469.8 L1200.4 468.6 L1201.0 469.8 M1203.5 469.8 L1204.1 468.0 L1204.7 469.8 M1205.9 469.8 L1206.5 467.2 L1207.1 469.8 M1209.7 469.8 L1210.3 468.1 L1210.9 469.8 M1212.0 469.8 L1212.6 468.6 L1213.2 469.8 M1214.1 469.8 L1214.7 468.3 L1215.3 469.8 M1216.2 469.8 L1216.8 468.5 L1217.4 469.8 M1218.7 469.8 L1219.3 467.8 L1219.9 469.8 M1222.4 469.8 L1223.0 467.5 L1223.6 469.8 M1225.1 469.8 L1225.7 468.1 L1226.3 469.8 M1228.1 469.8 L1228.7 468.2 L1229.3 469.8 M1230.7 469.8 L1231.3 468.8 L1231.9 469.8 M1233.2 469.8 L1233.8 467.1 L1234.4 469.8 M1235.4 469.8 L1236.0 468.0 L1236.6 469.8 M1238.6 469.8 L1239.2 467.3 L1239.8 469.8 M1240.9 469.8 L1241.5 468.4 L1242.1 469.8 M1243.4 469.8 L1244.0 468.2 L1244.6 469.8 M1246.2 469.8 L1246.8 467.1 L1247.4 469.8 M1249.8 469.8 L1250.4 467.2 L1251.0 469.8 M1251.8 469.8 L1252.4 468.9 L1253.0 469.8 M1255.1 469.8 L1255.7 467.2 L1256.3 469.8 M1258.0 469.8 L1258.6 467.8 L1259.2 469.8 M1259.9 469.8 L1260.5 468.2 L1261.1 469.8 M1263.7 469.8 L1264.3 467.3 L1264.9 469.8 M1267.3 469.8 L1267.9 467.1 L1268.5 469.8 M1269.7 469.8 L1270.3 468.7 L1270.9 469.8 M1272.0 469.8 L1272.6 467.9 L1273.2 469.8 M1275.3 469.8 L1275.9 467.1 L1276.5 469.8 M1278.6 469.8 L1279.2 467.7 L1279.8 469.8 M1282.1 469.8 L1282.7 468.1 L1283.3 469.8 M1285.1 469.8 L1285.7 468.9 L1286.3 469.8 M1288.6 469.8 L1289.2 468.5 L1289.8 469.8 M1292.3 469.8 L1292.9 467.7 L1293.5 469.8 M1294.9 469.8 L1295.5 468.7 L1296.1 469.8 M1297.3 469.8 L1297.9 467.7 L1298.5 469.8 M1300.6 469.8 L1301.2 468.7 L1301.8 469.8 M1302.7 469.8 L1303.3 467.9 L1303.9 469.8 M1305.8 469.8 L1306.4 468.2 L1307.0 469.8 M1308.2 469.8 L1308.8 467.8 L1309.4 469.8 M1310.1 469.8 L1310.7 468.4 L1311.3 469.8" fill="none" stroke="#333" stroke-width="0.8"/>
<path d="M1106.8 469.8 L1107.5 465.6 L1108.2 469.8 M1110.1 469.8 L1110.8 455.3 L1111.5 469.8 M1113.6 469.8 L1114.3 421.2 L1115.0 469.8 M1117.1 469.8 L1117.8 392.4 L1118.5 469.8 M1120.6 469.8 L1121.3 346.4 L1122.0 469.8 M1124.1 469.8 L1124.8 310.5 L1125.5 469.8 M1127.7 469.8 L1128.4 298.1 L1129.1 469.8 M1131.2 469.8 L1131.9 327.0 L1132.6 469.8 M1134.7 469.8 L1135.4 348.5 L1136.1 469.8 M1138.2 469.8 L1138.9 384.1 L1139.6 469.8 M1141.7 469.8 L1142.4 406.2 L1143.1 469.8 M1145.2 469.8 L1145.9 433.6 L1146.6 469.8 M1148.7 469.8 L1149.4 450.7 L1150.1 469.8 M1152.2 469.8 L1152.9 457.3 L1153.6 469.8 M1155.7 469.8 L1156.4 465.6 L1157.1 469.8 M1179.3 469.8 L1180.0 465.0 L1180.7 469.8 M1183.3 469.8 L1184.0 464.0 L1184.7 469.8 M1187.3 469.8 L1188.0 462.0 L1188.7 469.8 M1191.3 469.8 L1192.0 460.0 L1192.7 469.8 M1195.3 469.8 L1196.0 458.0 L1196.7 469.8 M1199.3 469.8 L1200.0 456.0 L1200.7 469.8 M1203.3 469.8 L1204.0 457.0 L1204.7 469.8 M1207.3 469.8 L1208.0 458.0 L1208.7 469.8 M1211.3 469.8 L1212.0 461.0 L1212.7 469.8 M1215.3 469.8 L1216.0 464.0 L1216.7 469.8 M1219.3 469.8 L1220.0 466.0 L1220.7 469.8" fill="none" stroke="#2a2a2a" stroke-width="0.9"/>
<text transform="translate(1075.9,288.9) scale(0.925,1)" font-size="18.7" fill="#2b2b2b" font-family="'Liberation Sans', sans-serif">[Q1+[Pt(tMebip)]]</text>
<text transform="translate(1155.8,444.0) scale(0.925,1)" font-size="18.7" fill="#2b2b2b" font-family="'Liberation Sans', sans-serif">[Q1+OH[Pt(tMebip)]]</text>
<line x1="1202.8" y1="351.5" x2="1202.8" y2="409.3" stroke="#1C74E0" stroke-width="3.8" stroke-linecap="round"/>
<path d="M1196.3 406.3 L1202.8 418.3 L1209.3 406.3 L1202.8 410.3 Z" fill="#1C74E0"/>
<text transform="translate(1089.5,491.0) scale(0.77,1)" text-anchor="middle" font-size="16.5" fill="#2b2b2b" font-family="'Liberation Sans', sans-serif">1604</text>
<text transform="translate(1124.2,491.0) scale(0.77,1)" text-anchor="middle" font-size="16.5" fill="#2b2b2b" font-family="'Liberation Sans', sans-serif">1606</text>
<text transform="translate(1159.0,491.0) scale(0.77,1)" text-anchor="middle" font-size="16.5" fill="#2b2b2b" font-family="'Liberation Sans', sans-serif">1608</text>
<text transform="translate(1193.8,491.0) scale(0.77,1)" text-anchor="middle" font-size="16.5" fill="#2b2b2b" font-family="'Liberation Sans', sans-serif">1610</text>
<text transform="translate(1228.5,491.0) scale(0.77,1)" text-anchor="middle" font-size="16.5" fill="#2b2b2b" font-family="'Liberation Sans', sans-serif">1612</text>
<text transform="translate(1263.2,491.0) scale(0.77,1)" text-anchor="middle" font-size="16.5" fill="#2b2b2b" font-family="'Liberation Sans', sans-serif">1614</text>
<text transform="translate(1298.0,491.0) scale(0.77,1)" text-anchor="middle" font-size="16.5" fill="#2b2b2b" font-family="'Liberation Sans', sans-serif">1616</text>
<text x="1323.3" y="479" font-size="17" font-style="italic" fill="#2b2b2b" font-family="'Liberation Sans', sans-serif">m/z</text>
<g transform="translate(0,0)"><path d="M372.7 580.8 C329.7 594.1 317.7 620.7 317.7 642.7 C317.7 688.7 367.8 702.7 372.7 707.7" fill="none" stroke="#000" stroke-width="2"/><path d="M372.7 580.8 C350.7 628.8 349.7 659.7 372.7 707.7" fill="none" stroke="#000" stroke-width="2"/><line x1="390.5" y1="591.5" x2="403.2" y2="630.1" stroke="#000" stroke-width="1.5"/><line x1="403.2" y1="655.5" x2="390.3" y2="706.3" stroke="#000" stroke-width="1.5"/><line x1="374" y1="644.6" x2="395.8" y2="644.6" stroke="#000" stroke-width="1.5"/><line x1="417.4" y1="644.6" x2="440.2" y2="644.6" stroke="#000" stroke-width="1.5"/><text x="373.1" y="589" font-size="23" fill="#111" font-family="'Liberation Sans', sans-serif">N</text><text x="355.9" y="650.3" font-size="23" fill="#111" font-family="'Liberation Sans', sans-serif">N</text><text x="395.9" y="650.3" font-size="23" fill="#111" font-family="'Liberation Sans', sans-serif">M</text><text x="442.2" y="650.3" font-size="23" fill="#111" font-family="'Liberation Sans', sans-serif">Cl</text><text x="373.1" y="716" font-size="23" fill="#111" font-family="'Liberation Sans', sans-serif">N</text></g>
<g transform="translate(305.8,-3.3)"><path d="M372.7 580.8 C329.7 594.1 317.7 620.7 317.7 642.7 C317.7 688.7 367.8 702.7 372.7 707.7" fill="none" stroke="#000" stroke-width="2"/><path d="M372.7 580.8 C350.7 628.8 349.7 659.7 372.7 707.7" fill="none" stroke="#000" stroke-width="2"/><line x1="390.5" y1="591.5" x2="403.2" y2="630.1" stroke="#000" stroke-width="1.5"/><line x1="403.2" y1="655.5" x2="390.3" y2="706.3" stroke="#000" stroke-width="1.5"/><line x1="374" y1="644.6" x2="395.8" y2="644.6" stroke="#000" stroke-width="1.5"/><line x1="418.1" y1="644.6" x2="441.8" y2="644.6" stroke="#000" stroke-width="1.5"/><text x="373.1" y="589" font-size="23" fill="#111" font-family="'Liberation Sans', sans-serif">N</text><text x="355.9" y="650.3" font-size="23" fill="#111" font-family="'Liberation Sans', sans-serif">N</text><text x="395.9" y="650.3" font-size="23" fill="#111" font-family="'Liberation Sans', sans-serif">M</text><text x="443.3" y="650.3" font-size="23" fill="#111" font-family="'Liberation Sans', sans-serif">OH</text><text x="373.1" y="716" font-size="23" fill="#111" font-family="'Liberation Sans', sans-serif">N</text></g>
<g transform="translate(665.1,-4.3)"><path d="M372.7 580.8 C329.7 594.1 317.7 620.7 317.7 642.7 C317.7 688.7 367.8 702.7 372.7 707.7" fill="none" stroke="#000" stroke-width="2"/><path d="M372.7 580.8 C350.7 628.8 349.7 659.7 372.7 707.7" fill="none" stroke="#000" stroke-width="2"/><line x1="390.5" y1="591.5" x2="403.2" y2="630.1" stroke="#000" stroke-width="1.5"/><line x1="403.2" y1="655.5" x2="390.3" y2="706.3" stroke="#000" stroke-width="1.5"/><line x1="374" y1="644.6" x2="395.8" y2="644.6" stroke="#000" stroke-width="1.5"/><line x1="418.1" y1="644.6" x2="441.2" y2="644.6" stroke="#000" stroke-width="1.5"/><text x="373.1" y="589" font-size="23" fill="#111" font-family="'Liberation Sans', sans-serif">N</text><text x="355.9" y="650.3" font-size="23" fill="#111" font-family="'Liberation Sans', sans-serif">N</text><text x="395.9" y="650.3" font-size="23" fill="#111" font-family="'Liberation Sans', sans-serif">M</text><text x="442.5" y="650.3" font-size="23" fill="#111" font-family="'Liberation Sans', sans-serif">DNA</text><text x="373.1" y="716" font-size="23" fill="#111" font-family="'Liberation Sans', sans-serif">N</text></g>
<line x1="291.8" y1="563" x2="476.5" y2="563" stroke="#2FC673" stroke-width="4.2" stroke-dasharray="7.3 9.4" stroke-dashoffset="0.3" stroke-linecap="round"/>
<line x1="476.5" y1="563" x2="476.5" y2="963" stroke="#2FC673" stroke-width="4.2" stroke-dasharray="7.3 9.4" stroke-dashoffset="-0.1" stroke-linecap="round"/>
<line x1="291.8" y1="963" x2="476.5" y2="963" stroke="#2FC673" stroke-width="4.2" stroke-dasharray="7.3 9.4" stroke-dashoffset="6.7" stroke-linecap="round"/>
<line x1="292" y1="563" x2="292" y2="963" stroke="#2FC673" stroke-width="4.2" stroke-dasharray="7.3 9.4" stroke-dashoffset="7.3" stroke-linecap="round"/>
<line x1="598.3" y1="563" x2="785.6" y2="563" stroke="#1C74E0" stroke-width="4.2" stroke-dasharray="7.3 9.4" stroke-dashoffset="3.0" stroke-linecap="round"/>
<line x1="785.6" y1="563" x2="785.6" y2="962.9" stroke="#1C74E0" stroke-width="4.2" stroke-dasharray="7.3 9.4" stroke-dashoffset="-0.3" stroke-linecap="round"/>
<line x1="598.3" y1="962.9" x2="785.6" y2="962.9" stroke="#1C74E0" stroke-width="4.2" stroke-dasharray="7.3 9.4" stroke-dashoffset="3.8" stroke-linecap="round"/>
<line x1="598.5" y1="563" x2="598.5" y2="962.9" stroke="#1C74E0" stroke-width="4.2" stroke-dasharray="7.3 9.4" stroke-dashoffset="4.6" stroke-linecap="round"/>
<line x1="479.3" y1="643.1" x2="584.4" y2="643.1" stroke="#000" stroke-width="3.6"/>
<path d="M594.9 643.1 L579.9 649.6 L584.4 643.1 L579.9 636.6 Z" fill="#000"/>
<line x1="479.3" y1="930.3" x2="584.4" y2="930.3" stroke="#000" stroke-width="4"/>
<path d="M594.9 930.3 L579.9 936.8 L584.4 930.3 L579.9 923.8 Z" fill="#000"/>
<line x1="809.1" y1="643.2" x2="948.1" y2="643.2" stroke="#000" stroke-width="3.6"/>
<path d="M958.6 643.2 L943.6 649.7 L948.1 643.2 L943.6 636.7 Z" fill="#000"/>
<line x1="381.8" y1="737.4" x2="381.8" y2="824.8" stroke="#000" stroke-width="3.6"/>
<path d="M381.8 835.3 L375.3 820.3 L381.8 824.8 L388.3 820.3 Z" fill="#000"/>
<line x1="687.8" y1="737.4" x2="687.8" y2="824.8" stroke="#000" stroke-width="3.6"/>
<path d="M687.8 835.3 L681.3 820.3 L687.8 824.8 L694.3 820.3 Z" fill="#000"/>
<line x1="788.2" y1="883.5" x2="997.8" y2="727.3" stroke="#000" stroke-width="3.6"/>
<path d="M1006.8 720.6 L998.0 735.6 L997.8 727.3 L989.9 724.7 Z" fill="#000"/>
<text x="486" y="634" font-size="23" font-family="'Liberation Sans', sans-serif">hydrolysis</text>
<text x="486" y="920.3" font-size="23" font-family="'Liberation Sans', sans-serif">hydrolysis</text>
<text x="809.3" y="634.2" font-size="23.6" font-family="'Liberation Sans', sans-serif">coordination</text>
<text x="390.8" y="793.5" font-size="23" font-family="'Liberation Sans', sans-serif">stacking</text>
<text x="696.3" y="793.5" font-size="23" font-family="'Liberation Sans', sans-serif">stacking</text>
<text transform="translate(840.5,833.5) rotate(-36.7)" font-size="23.3" font-family="'Liberation Sans', sans-serif">coordination</text>
<g transform="translate(0,0)" stroke="#1a1a1a" stroke-width="1.1" stroke-linejoin="round"><path d="M324.6 918.7 L330.8 914.1 L346 916.6 L340 921.2 Z" fill="#c8c8c8"/><path d="M300.9 938.1 L319.9 922.7 L367.8 931.9 L355.4 947.2 Z" fill="#c8c8c8"/><path d="M363.2 948.6 L379 934.1 L437.3 942.9 L418.3 958.3 Z" fill="#c8c8c8"/><path d="M388.5 928.9 L406.4 915 L461.6 922.9 L443.1 938.6 Z" fill="#c8c8c8"/><path d="M351 929 L363 907.2 L398.4 912.6 L379.5 928.6 Z" fill="#c8c8c8"/><path d="M415.9 879.3 C353.9 879.3 330.8 899.2 330.8 910.2 C330.8 926.2 350.3 930.8 352.5 934.2 C357.6 903.7 390.3 889.1 415.9 879.3 Z" fill="#fff" stroke="none"/><path d="M415.9 879.3 C353.9 879.3 330.8 899.2 330.8 910.2 C330.8 926.2 350.3 930.8 352.5 934.2" fill="none" stroke="#111" stroke-width="1.2"/><path d="M415.9 879.3 C390.3 889.1 357.6 903.7 352.5 934.2" fill="none" stroke="#111" stroke-width="1.4"/><line x1="426.8" y1="887.2" x2="417.1" y2="904.8" stroke="#111" stroke-width="1.2"/><line x1="385.7" y1="907.1" x2="405.1" y2="910.2" stroke="#555" stroke-width="1.4"/><line x1="424.5" y1="912.7" x2="444" y2="915.9" stroke="#555" stroke-width="1.4"/><line x1="368" y1="934" x2="399" y2="916" stroke="#666" stroke-width="1.1"/></g>
<g transform="translate(0,0)"><text transform="matrix(1.15,0.15,-0.7,0.55,413.8,883.9)" font-size="17" fill="#1a1a1a" font-family="'Liberation Sans', sans-serif">N</text><text transform="matrix(1.15,0.15,-0.7,0.55,368.7,907.7)" font-size="17" fill="#1a1a1a" font-family="'Liberation Sans', sans-serif">N</text><text transform="matrix(1.15,0.15,-0.7,0.55,349.3,937.9)" font-size="17" fill="#1a1a1a" font-family="'Liberation Sans', sans-serif">N</text><text transform="matrix(1.15,0.15,-0.7,0.55,403.6,913.3)" font-size="17" fill="#1a1a1a" font-family="'Liberation Sans', sans-serif">M</text><text transform="matrix(1.15,0.15,-0.7,0.55,443.2,919.8)" font-size="17" fill="#1a1a1a" font-family="'Liberation Sans', sans-serif">Cl</text></g>
<g transform="translate(305,0)" stroke="#1a1a1a" stroke-width="1.1" stroke-linejoin="round"><path d="M324.6 918.7 L330.8 914.1 L346 916.6 L340 921.2 Z" fill="#c8c8c8"/><path d="M300.9 938.1 L319.9 922.7 L367.8 931.9 L355.4 947.2 Z" fill="#c8c8c8"/><path d="M363.2 948.6 L379 934.1 L437.3 942.9 L418.3 958.3 Z" fill="#c8c8c8"/><path d="M388.5 928.9 L406.4 915 L461.6 922.9 L443.1 938.6 Z" fill="#c8c8c8"/><path d="M351 929 L363 907.2 L398.4 912.6 L379.5 928.6 Z" fill="#c8c8c8"/><path d="M415.9 879.3 C353.9 879.3 330.8 899.2 330.8 910.2 C330.8 926.2 350.3 930.8 352.5 934.2 C357.6 903.7 390.3 889.1 415.9 879.3 Z" fill="#fff" stroke="none"/><path d="M415.9 879.3 C353.9 879.3 330.8 899.2 330.8 910.2 C330.8 926.2 350.3 930.8 352.5 934.2" fill="none" stroke="#111" stroke-width="1.2"/><path d="M415.9 879.3 C390.3 889.1 357.6 903.7 352.5 934.2" fill="none" stroke="#111" stroke-width="1.4"/><line x1="426.8" y1="887.2" x2="417.1" y2="904.8" stroke="#111" stroke-width="1.2"/><line x1="385.7" y1="907.1" x2="405.1" y2="910.2" stroke="#555" stroke-width="1.4"/><line x1="424.5" y1="912.7" x2="444" y2="915.9" stroke="#555" stroke-width="1.4"/><line x1="368" y1="934" x2="399" y2="916" stroke="#666" stroke-width="1.1"/></g>
<g transform="translate(305,0)"><text transform="matrix(1.15,0.15,-0.7,0.55,413.8,883.9)" font-size="17" fill="#1a1a1a" font-family="'Liberation Sans', sans-serif">N</text><text transform="matrix(1.15,0.15,-0.7,0.55,368.7,907.7)" font-size="17" fill="#1a1a1a" font-family="'Liberation Sans', sans-serif">N</text><text transform="matrix(1.15,0.15,-0.7,0.55,349.3,937.9)" font-size="17" fill="#1a1a1a" font-family="'Liberation Sans', sans-serif">N</text><text transform="matrix(1.15,0.15,-0.7,0.55,403.6,913.3)" font-size="17" fill="#1a1a1a" font-family="'Liberation Sans', sans-serif">M</text><text transform="matrix(1.15,0.15,-0.7,0.55,444.2,919.8)" font-size="17" fill="#1a1a1a" font-family="'Liberation Sans', sans-serif">OH</text></g>
</svg></body></html>
